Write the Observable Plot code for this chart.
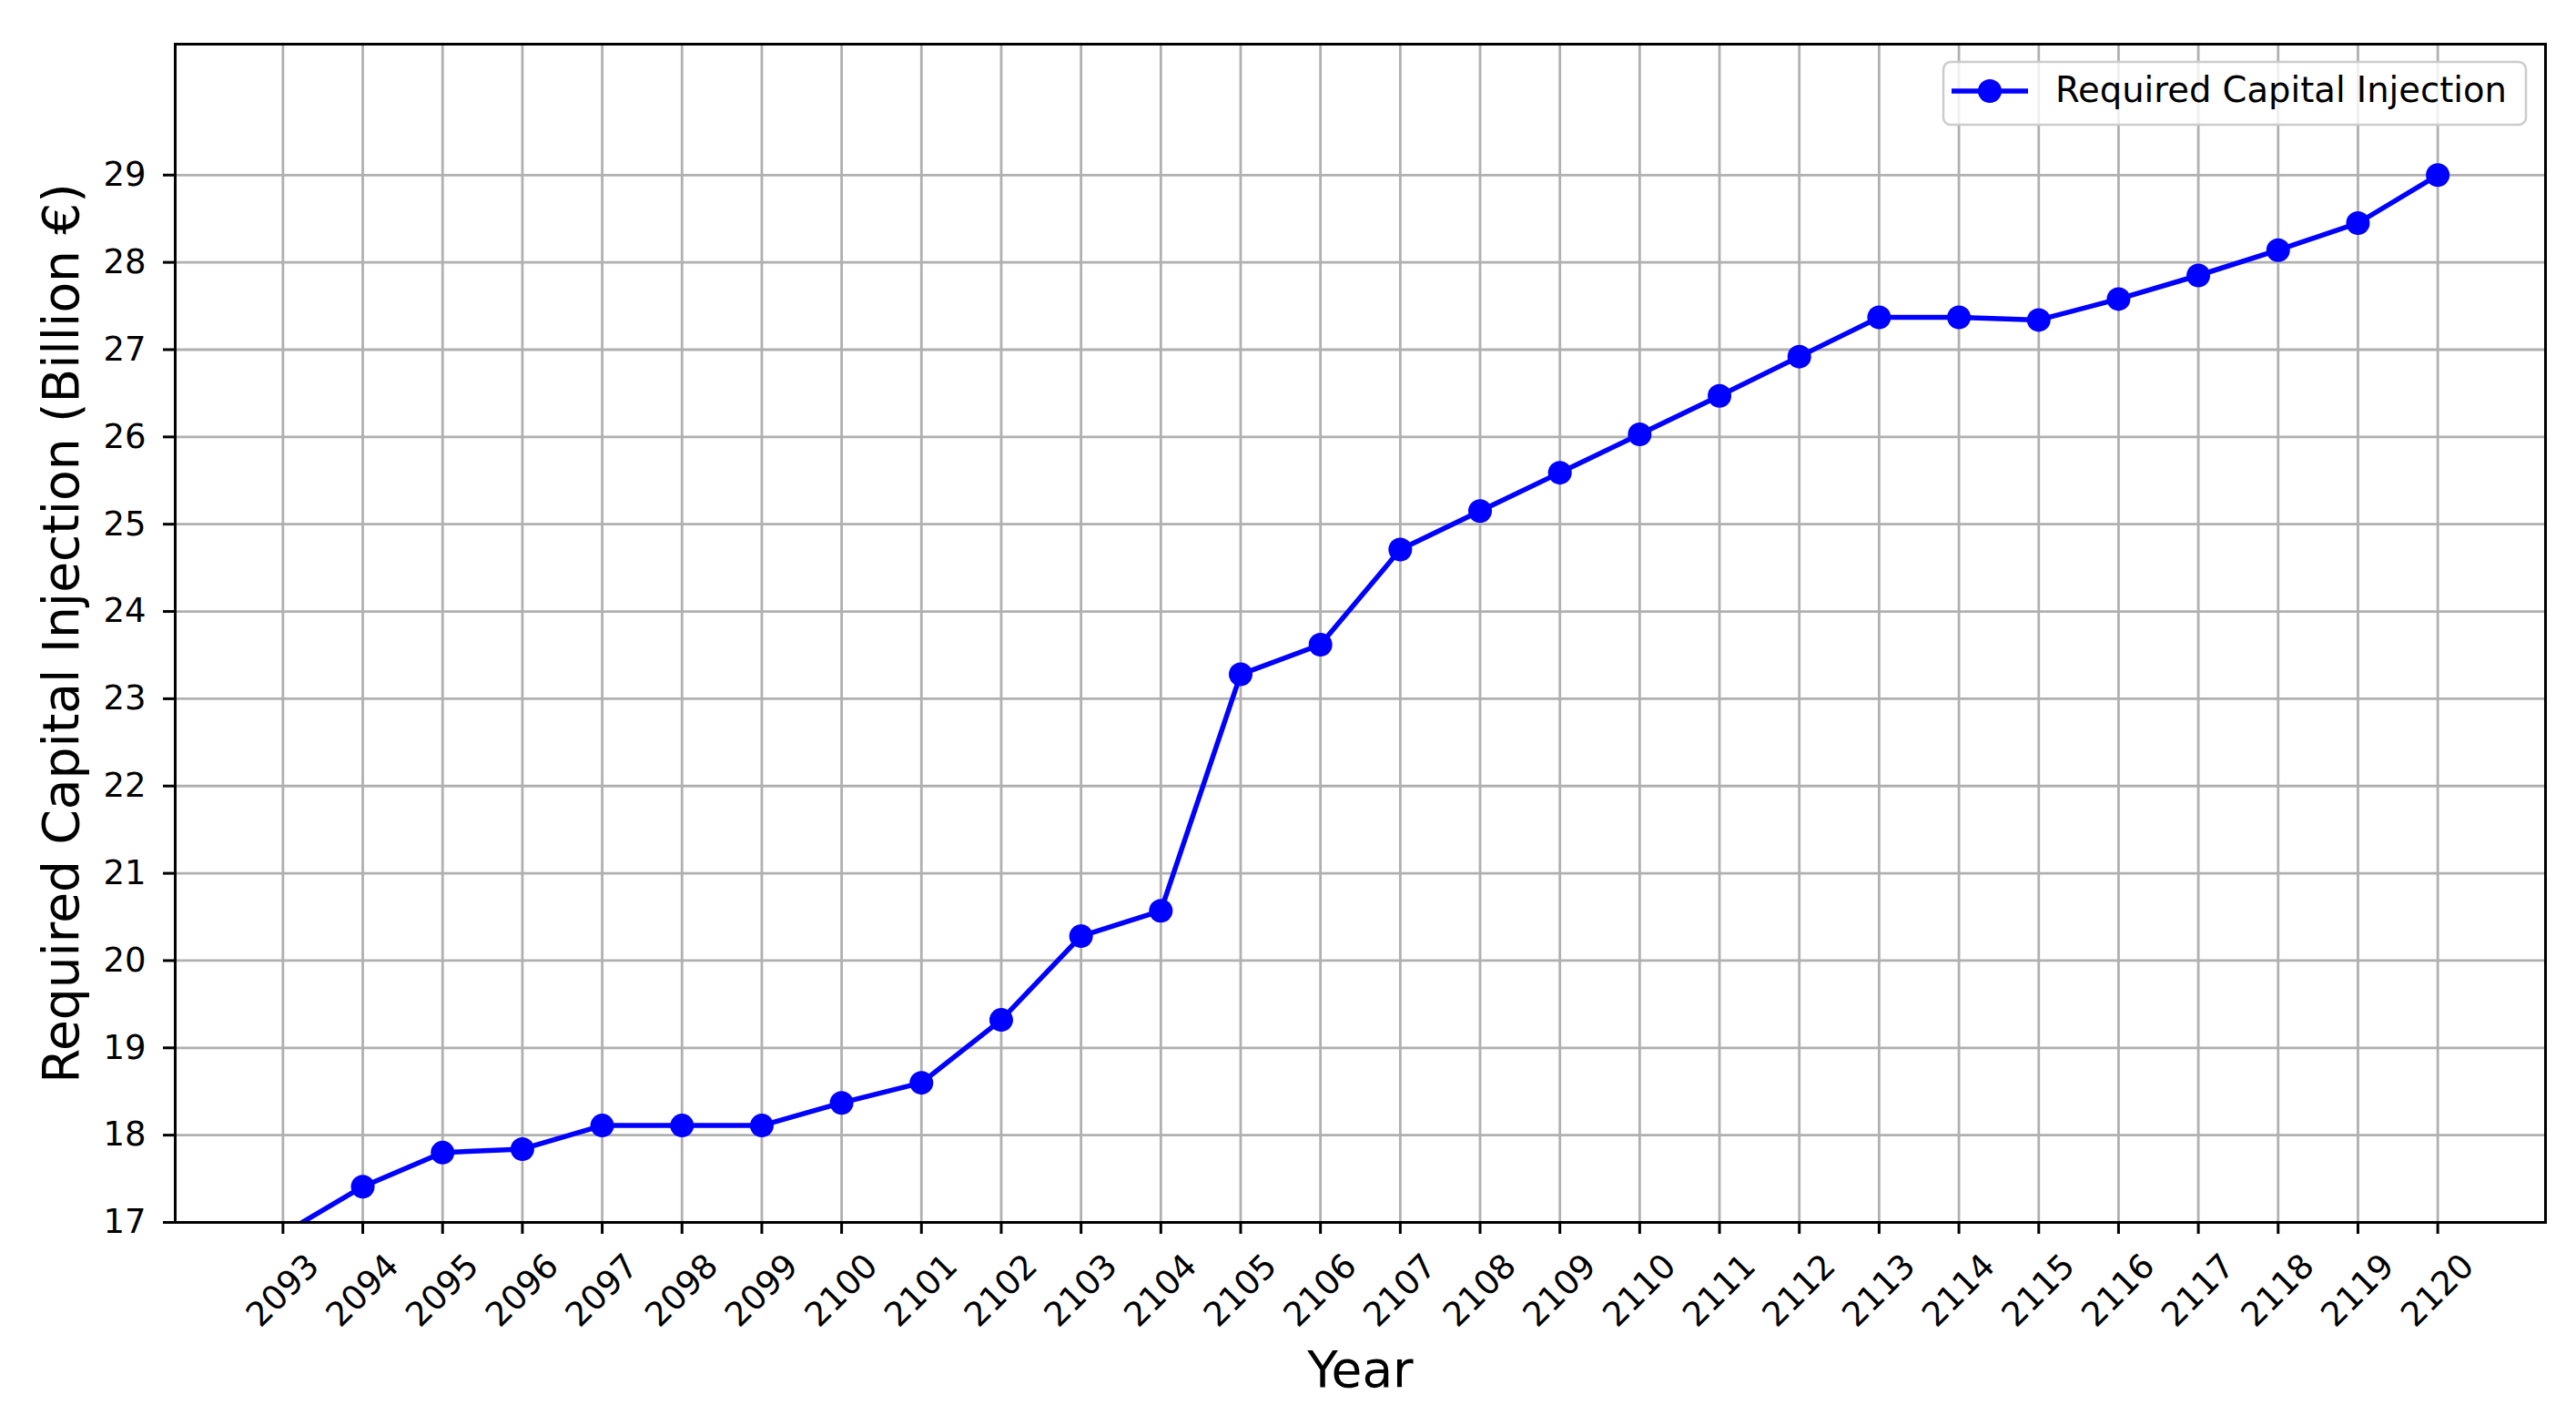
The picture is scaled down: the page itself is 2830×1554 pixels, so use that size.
<!DOCTYPE html>
<html><head><meta charset="utf-8">
<script src="https://cdn.jsdelivr.net/npm/d3@7"></script>
<script src="https://cdn.jsdelivr.net/npm/@observablehq/plot@0.6"></script>
<style>html,body{margin:0;padding:0;background:#fff;} #chart{width:2830px;height:1554px;}</style>
</head><body><div id="chart"></div>
<script>
const years = [2093,2094,2095,2096,2097,2098,2099,2100,2101,2102,2103,2104,2105,2106,2107,2108,2109,2110,2111,2112,2113,2114,2115,2116,2117,2118,2119,2120];
const values = [16.87,17.41,17.80,17.84,18.11,18.11,18.11,18.37,18.60,19.32,20.28,20.57,23.28,23.62,24.71,25.15,25.59,26.03,26.47,26.92,27.37,27.37,27.34,27.58,27.85,28.14,28.45,29.00];
const yTicks = [17,18,19,20,21,22,23,24,25,26,27,28,29];
const seriesName = "Required Capital Injection";
const xLabel = "Year";
const yLabel = "Required Capital Injection (Billion €)";

const data = years.map((y, i) => ({year: y, value: values[i]}));
const font = "'DejaVu Sans', sans-serif";

const plot = Plot.plot({
  width: 2830, height: 1554,
  marginLeft: 192, marginRight: 34, marginTop: 48, marginBottom: 212,
  style: {fontFamily: font, fontSize: "37px", color: "#000", background: "#fff"},
  x: {type: "linear", domain: [2091.65, 2121.35], label: null},
  y: {domain: [17, 30.5], label: null},
  marks: [
    Plot.gridX(years, {stroke: "#b0b0b0", strokeOpacity: 1, strokeWidth: 2.8}),
    Plot.gridY(yTicks, {stroke: "#b0b0b0", strokeOpacity: 1, strokeWidth: 2.8}),
    Plot.line(data, {x: "year", y: "value", stroke: "#0000ff", strokeWidth: 5.5, clip: true}),
    Plot.dot(data, {x: "year", y: "value", r: 13, fill: "#0000ff", stroke: "none", clip: true}),
    Plot.frame({stroke: "#000", strokeWidth: 3}),
    Plot.axisY(yTicks, {tickSize: 13, tickPadding: 19, strokeWidth: 3, fontSize: 37, tickFormat: d => String(d), label: null}),
    Plot.axisX(years, {tickSize: 13, strokeWidth: 3, tickFormat: () => "", label: null}),
    Plot.text(years, {x: d => d, text: d => String(d), frameAnchor: "bottom", dy: 75, rotate: -45, fontSize: 37, lineAnchor: "middle", textAnchor: "middle", fill: "#000"}),
    Plot.text([xLabel], {frameAnchor: "bottom", dy: 163, fontSize: 55, lineAnchor: "middle", textAnchor: "middle", fill: "#000"}),
    Plot.text([yLabel], {frameAnchor: "left", dx: -124, rotate: -90, fontSize: 55, lineAnchor: "middle", textAnchor: "middle", fill: "#000"})
  ]
});

const svg = d3.select(plot);
const lg = svg.append("g").attr("class", "legend");
lg.append("rect").attr("x", 2135).attr("y", 68).attr("width", 640).attr("height", 69).attr("rx", 8)
  .attr("fill", "#fff").attr("fill-opacity", 0.8).attr("stroke", "#cccccc").attr("stroke-width", 2.5);
lg.append("line").attr("x1", 2144).attr("x2", 2228).attr("y1", 100).attr("y2", 100)
  .attr("stroke", "#0000ff").attr("stroke-width", 5.5);
lg.append("circle").attr("cx", 2186).attr("cy", 100).attr("r", 13).attr("fill", "#0000ff");
lg.append("text").attr("x", 2258).attr("y", 112).attr("font-size", 38.5).attr("font-family", font)
  .attr("text-anchor", "start").attr("fill", "#000").text(seriesName);

document.getElementById("chart").appendChild(plot);
</script>
</body></html>
